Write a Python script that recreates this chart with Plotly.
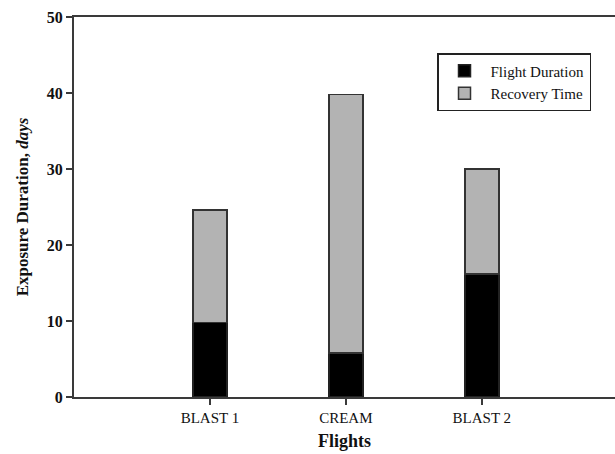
import plotly.graph_objects as go

categories = ["BLAST 1", "CREAM", "BLAST 2"]
positions = [1, 2, 3]
flight_duration = [9.8, 5.8, 16.2]
total_exposure = [24.6, 39.8, 30.0]
recovery_time = [t - f for t, f in zip(total_exposure, flight_duration)]
y_ticks = [0, 10, 20, 30, 40, 50]

font_family = "Liberation Serif"
line_col = "#3a3a3a"

fig = go.Figure()
fig.add_trace(go.Bar(
    x=positions, y=flight_duration, name="Flight Duration", width=0.25,
    marker=dict(color="#000000", line=dict(color="#222222", width=1.5)),
))
fig.add_trace(go.Bar(
    x=positions, y=recovery_time, name="Recovery Time", width=0.25,
    marker=dict(color="#b3b3b3", line=dict(color="#333333", width=1.5)),
))

fig.update_layout(
    width=615, height=454,
    barmode="stack",
    paper_bgcolor="white", plot_bgcolor="white",
    margin=dict(l=74, r=0, t=17, b=57, autoexpand=False),
    font=dict(family=font_family, color="#111111"),
    showlegend=True,
    legend=dict(
        x=0.671, y=0.905, xanchor="left", yanchor="top",
        traceorder="normal",
        bordercolor="#222222", borderwidth=1.5,
        bgcolor="white",
        font=dict(family=font_family, size=15, color="#111111"),
        itemwidth=42,
        tracegroupgap=0,
    ),
    xaxis=dict(
        range=[0, 3.98],
        tickmode="array", tickvals=positions, ticktext=categories,
        showline=True, linecolor=line_col, linewidth=2, mirror=True,
        ticks="outside", ticklen=6, tickcolor=line_col, tickwidth=1.5,
        showgrid=False, zeroline=False,
        tickfont=dict(family=font_family, size=15, color="#111111"),
        title=dict(text="<b>Flights</b>", font=dict(family=font_family, size=18, color="#111111"), standoff=9),
    ),
    yaxis=dict(
        range=[0, 50],
        tickmode="array", tickvals=y_ticks,
        showline=True, linecolor=line_col, linewidth=2, mirror=False,
        ticks="outside", ticklen=6, tickcolor=line_col, tickwidth=1.5,
        showgrid=False, zeroline=False,
        tickfont=dict(family=font_family, size=16, color="#111111", weight="bold"),
        title=dict(text="<b>Exposure Duration, <i>days</i></b>",
                   font=dict(family=font_family, size=17, color="#111111"), standoff=14),
    ),
)

fig.write_html("out.html", config={"displayModeBar": False},
               post_script="document.body.style.margin='0';")
